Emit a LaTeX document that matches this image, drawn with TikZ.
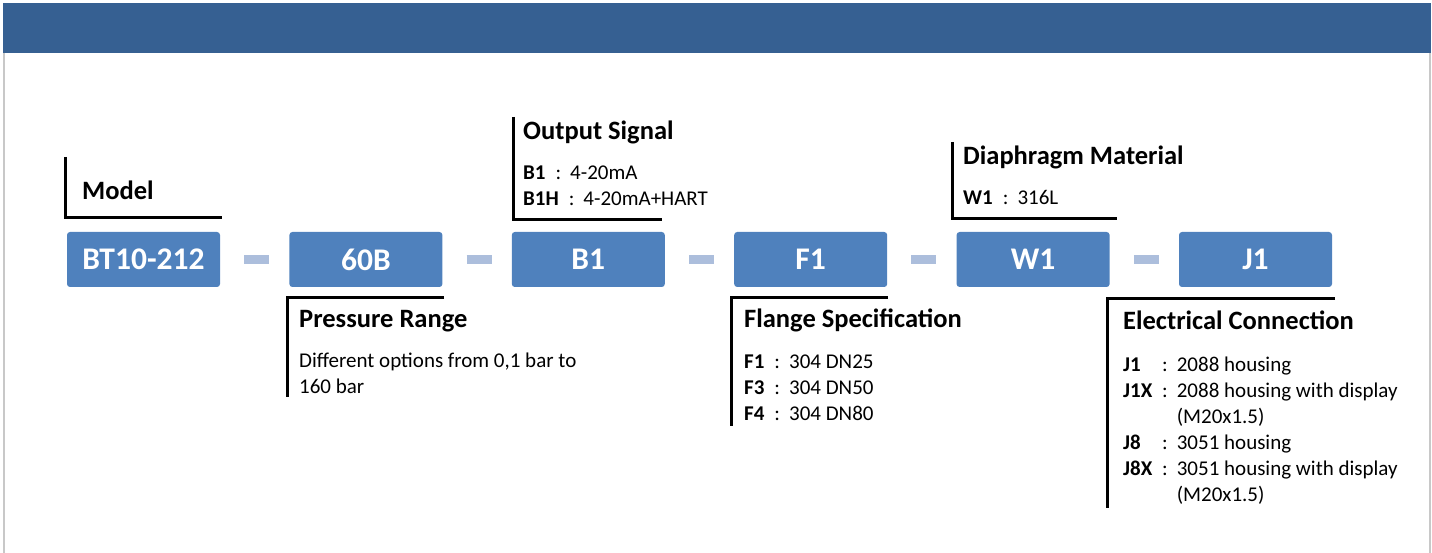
\documentclass[tikz,border=0pt]{standalone}
\usepackage{fontspec}
\setmainfont{Carlito}
\usetikzlibrary{positioning}

\definecolor{bandblue}{RGB}{54,96,146}
\definecolor{boxblue}{RGB}{79,129,189}
\definecolor{dashblue}{RGB}{172,190,220}
\definecolor{framegray}{RGB}{200,200,200}

% option line: code, colon, text
\newcommand{\opt}[2]{\textbf{#1}\hspace{10pt}:\hspace{9pt}#2}
\newcommand{\optj}[2]{\makebox[29pt][l]{\textbf{#1}}\hspace{10pt}:\hspace{9pt}#2}
\newcommand{\optjc}[1]{\makebox[29pt][l]{}\hspace{10pt}\phantom{:}\hspace{9pt}#1}

\begin{document}
\begin{tikzpicture}[x=1pt, y=-1pt,
  codebox/.style={rectangle, rounded corners=3pt, fill=boxblue, text=white,
    minimum width=153pt, minimum height=55pt, inner sep=0pt,
    font=\fontsize{31.5}{31.5}\selectfont\bfseries},
  link/.style={draw=dashblue, line width=9pt, shorten <=24pt, shorten >=20pt},
  bracket/.style={draw=black, line width=3pt},
  head/.style={anchor=base west, inner sep=0pt,
    font=\fontsize{26.5}{30}\selectfont\bfseries},
  item/.style={anchor=base west, inner sep=0pt, align=left,
    font=\fontsize{21}{26}\selectfont},
  node distance=69pt
]
\useasboundingbox (0,0) rectangle (1432,553);

% frame
\fill[bandblue] (3,3) rectangle (1431,53);
\draw[framegray, line width=1.5pt] (4,53) -- (4,553);
\draw[framegray, line width=1.5pt] (1430,53) -- (1430,553);

% code boxes
\node[codebox] (model) at (143.5,259.5) {BT10-212};
\node[codebox, right=of model] (range) {60B};
\node[codebox, right=of range] (signal) {B1};
\node[codebox, right=of signal] (flange) {F1};
\node[codebox, right=of flange] (diaphragm) {W1};
\node[codebox, right=of diaphragm] (conn) {J1};

\draw[link] (model) -- (range);
\draw[link] (range) -- (signal);
\draw[link] (signal) -- (flange);
\draw[link] (flange) -- (diaphragm);
\draw[link] (diaphragm) -- (conn);

% labels above (item nodes sit on their last baseline)
\draw[bracket] (65,157) -- (65,218) -- (222,218);
\node[head] (modelhead) at (82,200) {Model};

\draw[bracket] (513,117) -- (513,220) -- (662,220);
\node[head] (signalhead) at (523,140) {Output Signal};
\node[item] (signalopts) at (523,206) {\opt{B1}{4-20mA}\\\opt{B1H}{4-20mA+HART}};

\draw[bracket] (952,142) -- (952,219) -- (1117,219);
\node[head] (diaphragmhead) at (963,165) {Diaphragm Material};
\node[item] (diaphragmopts) at (963,205) {\opt{W1}{316L}};

% labels below
\draw[bracket] (444,298) -- (287,298) -- (287,397);
\node[head] (rangehead) at (299,327) {Pressure Range};
\node[item] (rangeopts) at (299,393) {Different options from 0,1 bar to\\160 bar};

\draw[bracket] (888,298) -- (731,298) -- (731,426);
\node[head] (flangehead) at (744,327) {Flange Specification};
\node[item] (flangeopts) at (744,420) {\opt{F1}{304 DN25}\\\opt{F3}{304 DN50}\\\opt{F4}{304 DN80}};

\draw[bracket] (1335,299) -- (1107,299) -- (1107,508);
\node[head] (connhead) at (1123,330) {Electrical Connection};
\node[item] (connopts) at (1123,501) {\optj{J1}{2088 housing}\\\optj{J1X}{2088 housing with display}\\\optjc{(M20x1.5)}\\\optj{J8}{3051 housing}\\\optj{J8X}{3051 housing with display}\\\optjc{(M20x1.5)}};
\end{tikzpicture}
\end{document}
